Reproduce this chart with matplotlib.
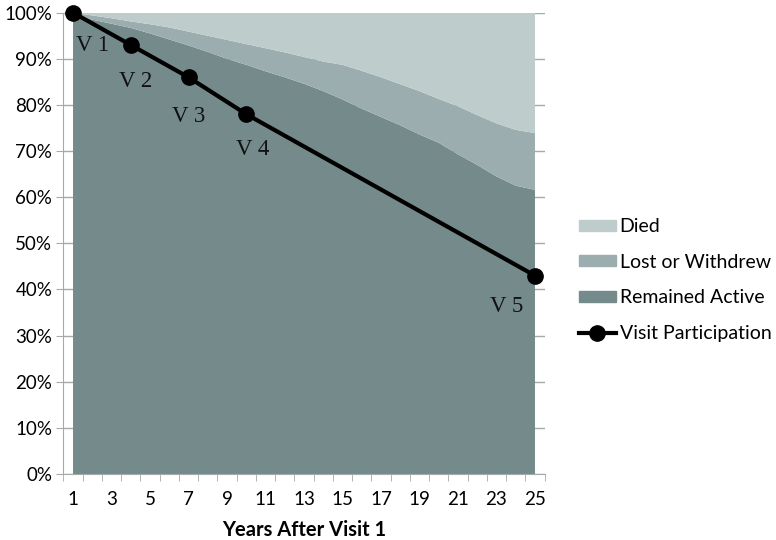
import matplotlib
matplotlib.use("Agg")
import matplotlib.pyplot as plt
from matplotlib.patches import Patch
from matplotlib.lines import Line2D

# shares of the cohort (%) by year after visit 1
years = list(range(1, 26))
remained_active = [100, 98.5, 97.6, 96.7, 95.5, 94.2, 92.9, 91.5, 90.0, 88.7, 87.3, 86.0, 84.6,
                   83.0, 81.2, 79.2, 77.4, 75.6, 73.6, 71.8, 69.3, 67.0, 64.5, 62.5, 61.6]
lost_or_withdrew = [0, 0.9, 1.2, 1.4, 2.0, 2.6, 3.0, 3.5, 4.1, 4.5, 5.0, 5.4, 5.8,
                    6.4, 7.5, 8.2, 8.6, 8.9, 9.4, 9.5, 10.4, 10.8, 11.5, 12.1, 12.3]
died = [0, 0.6, 1.2, 1.9, 2.5, 3.2, 4.1, 5.0, 5.9, 6.8, 7.7, 8.6, 9.6,
        10.6, 11.3, 12.6, 14.0, 15.5, 17.0, 18.7, 20.3, 22.2, 24.0, 25.4, 26.1]

visit_years = [1, 4, 7, 10, 25]
visit_participation = [100, 93, 86, 78, 43]
visit_labels = ["V 1", "V 2", "V 3", "V 4", "V 5"]
# label offsets (pixels) from each visit point
label_offsets = [(20, -33), (5, -37), (0, -39), (6, -35), (-28, -31)]

c_died = "#bfcccc"
c_lost = "#9badae"
c_active = "#758a8b"
c_grid = "#a3abab"

plt.rcParams["font.family"] = ["Lato", "DejaVu Sans"]

fig = plt.figure(figsize=(7.76, 5.40), dpi=100)
ax = fig.add_axes([0.0817, 0.1222, 0.6201, 0.8543])

ax.stackplot(years, remained_active, lost_or_withdrew, died,
             colors=[c_active, c_lost, c_died], zorder=2)
ax.plot(visit_years, visit_participation, color="black", lw=3, marker="o",
        markersize=11, zorder=3, clip_on=False)

for x, y, lab, off in zip(visit_years, visit_participation, visit_labels, label_offsets):
    ax.annotate(lab, (x, y), xytext=off, textcoords="offset pixels",
                ha="center", va="center", fontsize=16.5, family="Liberation Serif",
                color="#111111", zorder=4)

ax.set_xlim(0.5, 25.5)
ax.set_ylim(0, 100)
ax.set_yticks(range(0, 101, 10))
ax.set_yticklabels(["%d%%" % v for v in range(0, 101, 10)])
ax.set_xticks(range(1, 26, 2))
ax.set_xticks([v + 0.5 for v in range(0, 26)], minor=True)
ax.grid(axis="y", color=c_grid, lw=1, zorder=0)
ax.set_axisbelow(True)

for s in ["top", "right"]:
    ax.spines[s].set_visible(False)
for s in ["left", "bottom"]:
    ax.spines[s].set_color(c_grid)
ax.tick_params(axis="y", length=5, color=c_grid, labelsize=13.5, pad=3)
ax.tick_params(axis="x", which="major", length=0, labelsize=13.5, pad=12)
ax.tick_params(axis="x", which="minor", length=5, color=c_grid)
ax.set_xlabel("Years After Visit 1", fontsize=14.5, fontweight="bold", labelpad=9)

handles = [Patch(color=c_died), Patch(color=c_lost), Patch(color=c_active),
           Line2D([], [], color="black", lw=3, marker="o", markersize=11)]
names = ["Died", "Lost or Withdrew", "Remained Active", "Visit Participation"]
fig.legend(handles, names, loc="upper left", bbox_to_anchor=(0.736, 0.610),
           frameon=False, fontsize=14, handlelength=1.9, handleheight=0.5,
           handletextpad=0.2, labelspacing=0.95, borderaxespad=0)

fig.savefig("out.png", dpi=100)
